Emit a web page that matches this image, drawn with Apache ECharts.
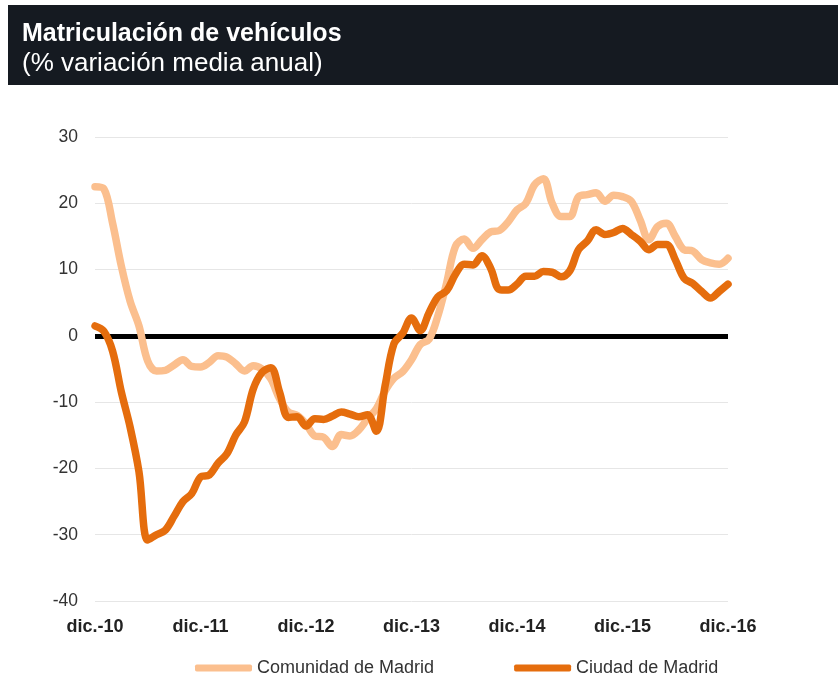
<!DOCTYPE html>
<html>
<head>
<meta charset="utf-8">
<script src="https://cdn.jsdelivr.net/npm/echarts@6/dist/echarts.min.js"></script>
<style>
html,body{margin:0;padding:0;background:#fff;}
#chart{width:838px;height:683px;}
</style>
</head>
<body>
<div id="chart"></div>
<script>
var monthNames = ["ene.","feb.","mar.","abr.","may.","jun.","jul.","ago.","sep.","oct.","nov.","dic."];
var categories = ["dic.-10"];
for (var y = 11; y <= 16; y++) {
  for (var m = 0; m < 12; m++) categories.push(monthNames[m] + "-" + y);
}
var comunidad = [22.5,22.2,17,10.5,5.2,1.5,-3.8,-5.3,-5.2,-4.4,-3.6,-4.6,-4.7,-4.0,-3.0,-3.2,-4.2,-5.3,-4.5,-5.0,
  -6.5,-9.5,-11.5,-12,-13.3,-15.1,-15.3,-16.7,-14.9,-15.1,-14.2,-12.5,-11,-8.3,-6.4,-5.4,-3.6,-1.3,-0.5,3,
  8,13.5,14.6,13.2,14.5,15.7,15.9,17.2,19,20,22.8,23.7,20,18,18,21,21.3,21.6,20.3,21.2,
  21,20.3,17.5,14.5,16.5,17,15,13,12.8,11.5,11,10.8,11.7];
var ciudad = [1.5,0.7,-2.3,-8.5,-13.8,-20.5,-30.8,-30.0,-29.3,-27.2,-25,-23.8,-21.3,-21,-19.2,-17.8,-15,-13,-8,-5.5,
  -4.8,-8.5,-12.3,-12.2,-13.6,-12.5,-12.6,-12.1,-11.5,-11.8,-12.2,-11.9,-14.4,-7.5,-1.2,0.4,2.7,0.8,3.5,5.9,
  6.8,9.3,10.8,10.7,12.1,10.2,7,6.9,7.8,9,9,9.7,9.6,8.9,9.8,13,14.3,16,15.3,15.6,
  16.2,15.3,14.3,13,13.8,13.8,11.5,8.7,7.9,6.7,5.7,6.7,7.8];
var seriesNames = ["Comunidad de Madrid","Ciudad de Madrid"];
var yTicks = {min:-40, max:30, interval:10};

var chart = echarts.init(document.getElementById('chart'), null, {renderer:'canvas'});
var font = "'Liberation Sans', Arial, Helvetica, sans-serif";
chart.setOption({
  animation:false,
  backgroundColor:'#ffffff',
  graphic:[{type:'rect', shape:{x:8,y:5,width:830,height:80}, style:{fill:'#151a21'}, z:0}],
  title:{
    left:22, top:22, itemGap:4, padding:0,
    text:'Matriculación de vehículos',
    subtext:'(% variación media anual)',
    textStyle:{color:'#ffffff', fontSize:25, fontWeight:'bold', fontFamily:font},
    subtextStyle:{color:'#ffffff', fontSize:26, fontWeight:'normal', fontFamily:font}
  },
  grid:{left:95, right:110, top:137, bottom:82, containLabel:false},
  legend:{
    top:659, left:195, padding:0,
    itemWidth:57, itemHeight:7, itemGap:80,
    icon:'roundRect',
    textStyle:{color:'#333', fontSize:18, fontFamily:font},
    data:seriesNames
  },
  xAxis:{
    type:'category', data:categories, boundaryGap:false,
    axisLine:{show:false}, axisTick:{show:false},
    splitLine:{show:false},
    axisLabel:{interval:11, color:'#222', fontSize:18, fontWeight:'bold', fontFamily:font, margin:17}
  },
  yAxis:{
    type:'value', min:yTicks.min, max:yTicks.max, interval:yTicks.interval,
    axisLine:{show:false}, axisTick:{show:false},
    splitLine:{lineStyle:{color:'#e6e6e6', width:1}},
    axisLabel:{color:'#333', fontSize:17.5, fontFamily:font, margin:17}
  },
  series:[
    {name:seriesNames[0], type:'line', data:comunidad, smooth:0.35, symbol:'none',
     lineStyle:{color:'#fbbf8e', width:7.5, cap:'round', join:'round'}, itemStyle:{color:'#fbbf8e'}, z:3,
     markLine:{silent:true, symbol:'none', label:{show:false}, lineStyle:{color:'#000', width:5, type:'solid'}, data:[{yAxis:0}], z:2}},
    {name:seriesNames[1], type:'line', data:ciudad, smooth:0.35, symbol:'none',
     lineStyle:{color:'#e56d0d', width:7.5, cap:'round', join:'round'}, itemStyle:{color:'#e56d0d'}, z:4}
  ]
});
</script>
</body>
</html>
